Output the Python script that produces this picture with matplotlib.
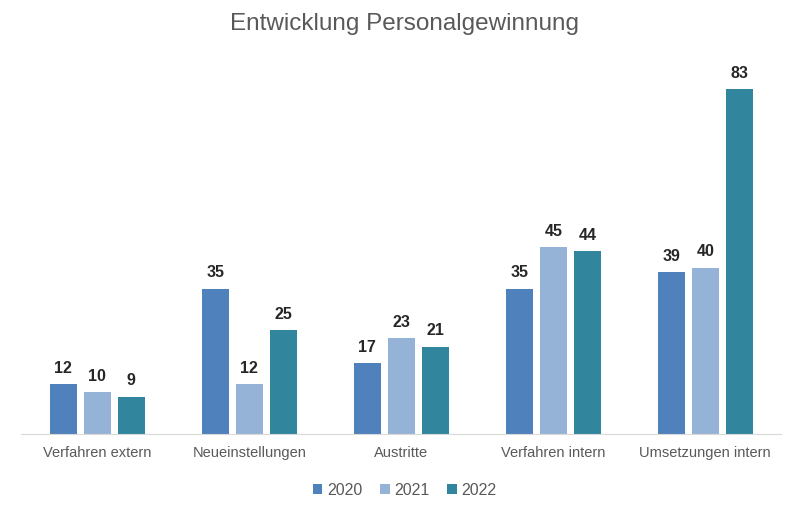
import matplotlib
matplotlib.use("Agg")
import matplotlib.pyplot as plt
import numpy as np

plt.rcParams['font.family'] = ['Liberation Sans', 'DejaVu Sans']

categories = ["Verfahren extern", "Neueinstellungen", "Austritte", "Verfahren intern", "Umsetzungen intern"]
series_names = ["2020", "2021", "2022"]
v2020 = [12, 35, 17, 35, 39]
v2021 = [10, 12, 23, 45, 40]
v2022 = [9, 25, 21, 44, 83]
colors = ["#4F81BD", "#95B3D7", "#31859C"]

fig = plt.figure(figsize=(7.86, 5.08), dpi=100)
ax = fig.add_axes([0.027, 0.1457, 0.967, 0.7363])

x = np.arange(len(categories))
w = 0.177
pitch = 0.224
for i, (vals, name, c) in enumerate(zip([v2020, v2021, v2022], series_names, colors)):
    pos = x + (i - 1) * pitch
    bars = ax.bar(pos, vals, width=w, color=c, label=name, zorder=2)
    for b, v in zip(bars, vals):
        ax.annotate(str(v), (b.get_x() + b.get_width() / 2, v), xytext=(0, 6),
                    textcoords="offset points", ha="center", va="bottom",
                    fontsize=11.5, fontweight="bold", color="#262626")

ax.set_xlim(-0.5, len(categories) - 0.5)
ax.set_ylim(0, 90)
ax.set_yticks([])
ax.set_xticks(x)
ax.set_xticklabels(categories, fontsize=10.5, color="#595959")
ax.tick_params(axis="x", length=0, pad=9)
for s in ["top", "right", "left"]:
    ax.spines[s].set_visible(False)
ax.spines["bottom"].set_color("#D9D9D9")

fig.text(0.515, 0.953, "Entwicklung Personalgewinnung", ha="center", va="center",
         fontsize=17.5, color="#595959")

leg = fig.legend(loc="center", bbox_to_anchor=(0.515, 0.035), ncol=3, frameon=False,
                 fontsize=11.5, handlelength=0.6, handleheight=0.6, handletextpad=0.3,
                 columnspacing=1.1)
for t in leg.get_texts():
    t.set_color("#595959")

fig.savefig("out.png", dpi=100)
